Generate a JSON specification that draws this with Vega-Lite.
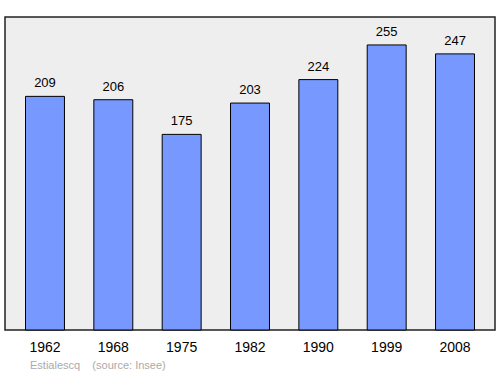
{
  "$schema": "https://vega.github.io/schema/vega-lite/v6.json",
  "width": 490,
  "height": 313,
  "autosize": "none",
  "padding": {"left": 5, "top": 17, "right": 5, "bottom": 44},
  "background": "white",
  "config": {
    "view": {"fill": "#eeeeee", "stroke": "#222222", "strokeWidth": 1.5},
    "font": "Liberation Sans"
  },
  "title": {
    "text": "Estialescq\u00a0\u00a0\u00a0\u00a0(source: Insee)",
    "orient": "bottom",
    "anchor": "start",
    "dx": 25,
    "offset": 6,
    "fontSize": 11,
    "fontWeight": "normal",
    "color": "#aaaaaa",
    "font": "Liberation Sans"
  },
  "data": {
    "values": [
      {"year": "1962", "pop": 209},
      {"year": "1968", "pop": 206},
      {"year": "1975", "pop": 175},
      {"year": "1982", "pop": 203},
      {"year": "1990", "pop": 224},
      {"year": "1999", "pop": 255},
      {"year": "2008", "pop": 247}
    ]
  },
  "encoding": {
    "x": {
      "field": "year",
      "type": "nominal",
      "scale": {"paddingInner": 0.43, "paddingOuter": 0.3},
      "axis": {
        "title": null,
        "labelAngle": 0,
        "ticks": false,
        "domain": false,
        "labelFontSize": 14,
        "labelColor": "#000000",
        "labelPadding": 10,
        "labelFont": "Liberation Sans"
      }
    },
    "y": {
      "field": "pop",
      "type": "quantitative",
      "scale": {"domain": [0, 280]},
      "axis": null
    }
  },
  "layer": [
    {
      "mark": {"type": "bar", "fill": "#7799ff", "stroke": "#000000", "strokeWidth": 1}
    },
    {
      "mark": {"type": "text", "baseline": "bottom", "dy": -6, "fontSize": 13, "color": "#000000"},
      "encoding": {"text": {"field": "pop", "type": "quantitative"}}
    }
  ]
}
